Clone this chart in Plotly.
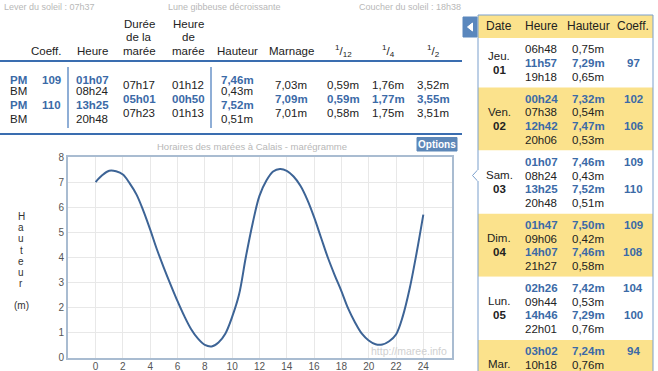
import plotly.graph_objects as go

W, H = 658, 371
FONT = "Liberation Sans, Arial, Helvetica, sans-serif"
BLUE_TXT = "#3b6aa7"
BLACK = "#222222"
GREY = "#b8b8b8"
LINE_BLUE = "#3a6db0"
YELLOW = "#fbe28c"

# ---------------- data ----------------
hours = [0, 0.5, 1, 1.5, 2, 2.5, 3, 3.5, 4, 4.5, 5, 5.5, 6, 6.5, 7, 7.5, 8, 8.5,
         9, 9.5, 10, 10.5, 11, 11.5, 12, 12.5, 13, 13.5, 14, 14.5, 15, 15.5, 16,
         16.5, 17, 17.5, 18, 18.5, 19, 19.5, 20, 20.5, 21, 21.5, 22, 22.5, 23,
         23.5, 24]
heights = [7.00, 7.28, 7.45, 7.43, 7.30, 6.95, 6.50, 5.85, 5.10, 4.30, 3.58,
           2.90, 2.25, 1.65, 1.13, 0.75, 0.50, 0.44, 0.60, 0.95, 1.62, 2.50,
           4.00, 5.35, 6.45, 7.05, 7.42, 7.52, 7.45, 7.22, 6.85, 6.30, 5.60,
           4.80, 4.00, 3.30, 2.65, 1.95, 1.40, 0.95, 0.68, 0.53, 0.52, 0.65,
           0.92, 1.65, 2.75, 4.15, 5.70]
x_ticks = [0, 2, 4, 6, 8, 10, 12, 14, 16, 18, 20, 22, 24]

info_left = "Lever du soleil : 07h37"
info_mid = "Lune gibbeuse décroissante"
info_right = "Coucher du soleil : 18h38"

col_headers = [["Coeff."], ["Heure"], ["Durée", "de la", "marée"], ["Heure", "de", "marée"],
               ["Hauteur"], ["Marnage"], ["<sup>1</sup>/<sub>12</sub>"],
               ["<sup>1</sup>/<sub>4</sub>"], ["<sup>1</sup>/<sub>2</sub>"]]

tide_types = ["PM", "BM", "PM", "BM"]
tide_coeffs = ["109", "", "110", ""]
tide_times = ["01h07", "08h24", "13h25", "20h48"]
tide_heights = ["7,46m", "0,43m", "7,52m", "0,51m"]
durations = ["07h17", "05h01", "07h23"]
tide_hours = ["01h12", "00h50", "01h13"]
marnage = ["7,03m", "7,09m", "7,01m"]
twelfth = ["0,59m", "0,59m", "0,58m"]
quarter = ["1,76m", "1,77m", "1,75m"]
half = ["3,52m", "3,55m", "3,51m"]

side_headers = ["Date", "Heure", "Hauteur", "Coeff."]
day_names = ["Jeu.", "Ven.", "Sam.", "Dim.", "Lun.", "Mar."]
day_nums = ["01", "02", "03", "04", "05", "06"]
day_times = [["06h48", "11h57", "19h18"],
             ["00h24", "07h38", "12h42", "20h06"],
             ["01h07", "08h24", "13h25", "20h48"],
             ["01h47", "09h06", "14h07", "21h27"],
             ["02h26", "09h44", "14h46", "22h01"],
             ["03h02", "10h18"]]
day_heights = [["0,75m", "7,29m", "0,65m"],
               ["7,32m", "0,54m", "7,47m", "0,53m"],
               ["7,46m", "0,43m", "7,52m", "0,51m"],
               ["7,50m", "0,42m", "7,46m", "0,58m"],
               ["7,42m", "0,53m", "7,29m", "0,76m"],
               ["7,24m", "0,76m"]]
day_coeffs = [["", "97", ""],
              ["102", "", "106", ""],
              ["109", "", "110", ""],
              ["109", "", "108", ""],
              ["104", "", "100", ""],
              ["94", ""]]
day_row_counts = [3, 4, 4, 4, 4, 4]

chart_title = "Horaires des marées à Calais - marégramme"
y_label = "Hauteur"
watermark = "http://maree.info"

# ---------------- helpers ----------------
anns = []
shapes = []


def fx(x):
    return x / W


def fy(y):
    return 1 - y / H


def txt(s, x, y, size=11.5, color=BLACK, bold=False, anchor="center"):
    if y > H + 2:
        return  # below the visible page, as in the screenshot
    if bold:
        s = "<b>" + s + "</b>"
    anns.append(dict(text=s, x=fx(x), y=fy(y), xref="paper", yref="paper",
                     xanchor=anchor, yanchor="middle", showarrow=False,
                     font=dict(size=size, color=color, family=FONT)))


def rect(x0, y0, x1, y1, fill=None, line=None, lw=1, layer="below"):
    shapes.append(dict(type="rect", xref="paper", yref="paper",
                       x0=fx(x0), x1=fx(x1), y0=fy(y1), y1=fy(y0),
                       fillcolor=fill if fill else "rgba(0,0,0,0)",
                       line=dict(color=line if line else "rgba(0,0,0,0)", width=lw if line else 0),
                       layer=layer))


def hline(x0, x1, y, color, w):
    shapes.append(dict(type="line", xref="paper", yref="paper", x0=fx(x0), x1=fx(x1),
                       y0=fy(y), y1=fy(y), line=dict(color=color, width=w)))


def vline(x, y0, y1, color, w):
    shapes.append(dict(type="line", xref="paper", yref="paper", x0=fx(x), x1=fx(x),
                       y0=fy(y0), y1=fy(y1), line=dict(color=color, width=w)))


# ---------------- top info ----------------
txt(info_left, 2, 7, size=9, color=GREY, anchor="left")
txt(info_mid, 225, 7, size=9, color=GREY)
txt(info_right, 463, 7, size=9, color=GREY, anchor="right")

# ---------------- left table ----------------
col_x = [46, 92, 139, 188, 237, 291, 343, 388, 433]
for cx, lines in zip(col_x, col_headers):
    n = len(lines)
    for i, ln in enumerate(lines):
        txt(ln, cx, 51 - (n - 1 - i) * 13.6, size=11.5)
hline(0, 462, 61, LINE_BLUE, 2)
vline(68, 67, 128, "#6a93c8", 1.5)
vline(211, 67, 128, "#6a93c8", 1.5)

row_y = [79.5, 91, 105, 118.5]
for i in range(4):
    hi = tide_types[i] == "PM"
    c = BLUE_TXT if hi else BLACK
    txt(tide_types[i], 8, row_y[i], color=c, bold=hi, anchor="left")
    if tide_coeffs[i]:
        txt(tide_coeffs[i], 51, row_y[i], color=c, bold=hi)
    txt(tide_times[i], 92, row_y[i], color=c, bold=hi)
    txt(tide_heights[i], 237, row_y[i], color=c, bold=hi)

mid_y = [85.5, 99, 112.5]
mid_cols = [(139, durations), (188, tide_hours), (291, marnage),
            (343, twelfth), (388, quarter), (433, half)]
for i in range(3):
    hi = i == 1
    c = BLUE_TXT if hi else BLACK
    for cx, vals in mid_cols:
        txt(vals[i], cx, mid_y[i], color=c, bold=hi)

hline(0, 462, 134, LINE_BLUE, 2)

# chart title + options button
txt(chart_title, 252, 146, size=9.5, color=GREY)
shapes.append(dict(type="path", xref="paper", yref="paper",
                   path="M {} {} L {} {} L {} {} L {} {} Z".format(
                       fx(417), fy(137.5), fx(457), fy(137.5), fx(457), fy(151), fx(417), fy(151)),
                   fillcolor="#5d87b8", line=dict(color="#5d87b8", width=1)))
txt("Options", 437, 144.5, size=10, color="white", bold=True)

# y axis stacked label
for i, ch in enumerate(y_label):
    txt(ch, 21, 216.5 + i * 11.2, size=10, color="#333333")
txt("(m)", 21, 305, size=10, color="#333333")

txt(watermark, 449, 351, size=10.5, color="#d0d0d0", anchor="right")

# ---------------- right side table ----------------
TX0, TX1 = 478, 653
rect(TX0, 15, TX1, 38, fill=YELLOW)
side_cx = [499, 541, 588, 633]
for cx, h in zip(side_cx, side_headers):
    txt(h, cx, 26.5, size=12)

pitch = 13.6
y0 = 38.0
for d in range(len(day_names)):
    n = day_row_counts[d]
    bh = 22.3 + pitch * (n - 1)
    fill = "white" if d % 2 == 0 else YELLOW
    rect(TX0, y0, TX1, y0 + bh + 40 * (d == len(day_names) - 1), fill=fill)
    mid = y0 + bh / 2
    txt(day_names[d], 499, mid - 7, size=11.5)
    txt(day_nums[d], 499, mid + 7, size=11.5, bold=True)
    for i, t in enumerate(day_times[d]):
        yy = y0 + 11.3 + pitch * i
        hi = day_coeffs[d][i] != ""
        c = BLUE_TXT if hi else BLACK
        txt(t, 541, yy, color=c, bold=hi)
        txt(day_heights[d][i], 588, yy, color=c, bold=hi)
        if hi:
            txt(day_coeffs[d][i], 633, yy, color=c, bold=True)
    y0 += bh

# border of side table
rect(TX0, 15, TX1, 380, line="#7a9fcc", lw=1, layer="above")
# notch on selected day
shapes.append(dict(type="path", xref="paper", yref="paper",
                   path="M {} {} L {} {} L {} {} Z".format(
                       fx(478.5), fy(169), fx(472.5), fy(175.5), fx(478.5), fy(182)),
                   fillcolor="white", line=dict(color="#7a9fcc", width=1)))
shapes.append(dict(type="line", xref="paper", yref="paper", x0=fx(478.5), x1=fx(478.5),
                   y0=fy(169.5), y1=fy(181.5), line=dict(color="white", width=2)))
# collapse tab
rect(463, 17, 477, 37, fill="#5a87bd", line="#5a87bd", layer="above")
shapes.append(dict(type="path", xref="paper", yref="paper",
                   path="M {} {} L {} {} L {} {} Z".format(
                       fx(472.5), fy(23), fx(467.5), fy(27), fx(472.5), fy(31)),
                   fillcolor="white", line=dict(color="white", width=1)))

# ---------------- chart ----------------
fig = go.Figure()
fig.add_trace(go.Scatter(x=hours, y=heights, mode="lines",
                         line=dict(color="#3d6496", width=2, shape="spline", smoothing=1.0),
                         hoverinfo="x+y"))

axis_style = dict(showgrid=True, gridcolor="#e8e8e8", gridwidth=1, zeroline=False,
                  showline=True, mirror=True, linecolor="#a9bcd1", linewidth=2,
                  ticks="", tickfont=dict(size=10, color="#555555", family=FONT))

fig.update_layout(
    width=W, height=H,
    margin=dict(l=0, r=0, t=0, b=0, autoexpand=False),
    paper_bgcolor="white", plot_bgcolor="white",
    showlegend=False,
    xaxis=dict(domain=[68 / W, 452 / W], range=[-2.02, 26.1], tickvals=x_ticks,
               ticklabelstandoff=-2, **axis_style),
    yaxis=dict(domain=[1 - 357.5 / H, 1 - 157 / H], range=[0, 8], dtick=1, **axis_style),
    annotations=anns,
    shapes=shapes,
    font=dict(family=FONT),
)

fig.write_html("out.html", config={"displayModeBar": False},
               post_script="document.body.style.margin='0';document.body.style.overflow='hidden';")
